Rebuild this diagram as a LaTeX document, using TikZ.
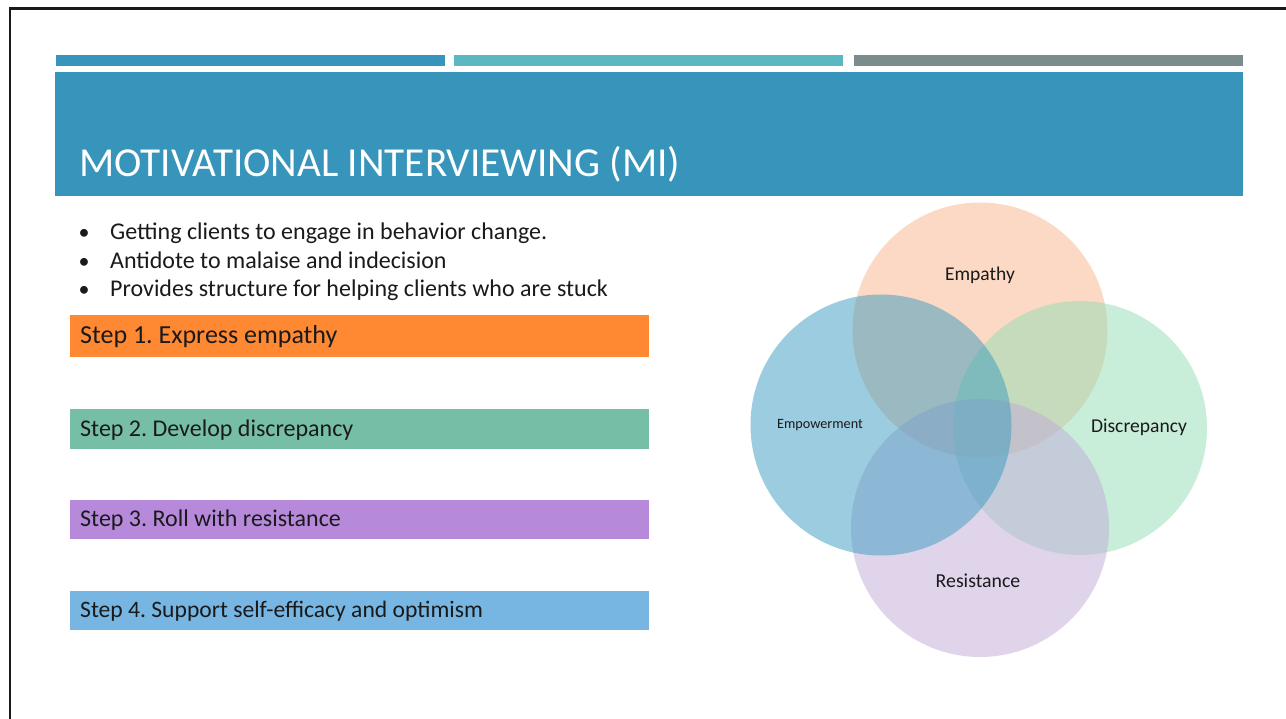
\documentclass[tikz,border=0pt]{standalone}
\usepackage{fontspec}
\setmainfont{Carlito}
\frenchspacing
\begin{document}
\definecolor{hdrblue}{HTML}{3795BC}
\definecolor{bartwo}{HTML}{5BB8C0}
\definecolor{barthree}{HTML}{7A8C8C}
\definecolor{stepone}{HTML}{FF8833}
\definecolor{steptwo}{HTML}{76BFA6}
\definecolor{stepthree}{HTML}{B689DB}
\definecolor{stepfour}{HTML}{77B5E2}
\definecolor{cempathy}{HTML}{F8B48A}
\definecolor{cdisc}{HTML}{93DDB4}
\definecolor{cresist}{HTML}{C2ABD9}
\definecolor{cempow}{HTML}{3A9BC0}
\definecolor{txt}{HTML}{1A1A1A}
\begin{tikzpicture}[x=1pt,y=-1pt,
  bar/.style={fill=#1,draw=none,inner sep=0pt,outer sep=0pt},
  stepbox/.style={fill=#1,draw=none,inner sep=0pt,outer sep=0pt,minimum width=579pt,anchor=north west},
  steptext/.style={anchor=west,inner sep=0pt,font=\fontsize{24}{28}\selectfont,text=txt},
  bullettext/.style={anchor=base west,inner sep=0pt,font=\fontsize{24}{28}\selectfont,text=txt},
  dot/.style={anchor=base,inner sep=0pt,font=\fontsize{22}{26}\selectfont,text=txt},
  venn/.style={circle,fill=#1,draw=none,fill opacity=0.5,inner sep=0pt},
  vlabel/.style={inner sep=0pt,text=txt,text opacity=1}
]
\useasboundingbox (0,0) rectangle (1286,719);
\fill[white] (0,0) rectangle (1286,719);
% frame
\coordinate (ftl) at (10,8.3);
\coordinate (ftr) at (1286,8.3);
\coordinate (fbl) at (10,719);
\draw[line width=2.6pt,black!90] (ftr) -- (ftl) -- (fbl);
% top bars
\node[bar=hdrblue,minimum width=389pt,minimum height=11pt,anchor=north west] (bar1) at (56,55) {};
\node[bar=bartwo,minimum width=389pt,minimum height=11pt,anchor=north west] (bar2) at (454,55) {};
\node[bar=barthree,minimum width=389pt,minimum height=11pt,anchor=north west] (bar3) at (854,55) {};
% header
\node[bar=hdrblue,minimum width=1188pt,minimum height=124pt,anchor=north west] (header) at (55,72) {};
\node[anchor=base west,inner sep=0pt,text=white,font=\fontsize{41.2}{45}\selectfont] (title) at (79,177) {MOTIVATIONAL INTERVIEWING (MI)};
% bullets
\node[dot] (d1) at (84,240) {•};
\node[bullettext] (b1) at (110,240) {Getting clients to engage in behavior change.};
\node[dot] (d2) at (84,268.5) {•};
\node[bullettext] (b2) at (110,268.5) {Antidote to malaise and indecision};
\node[dot] (d3) at (84,297) {•};
\node[bullettext] (b3) at (110,297) {Provides structure for helping clients who are stuck};
% steps
\node[stepbox=stepone,minimum height=42pt] (s1) at (70,315) {};
\node[steptext,font=\fontsize{26}{30}\selectfont] (s1t) at ([xshift=10pt,yshift=-1pt]s1.west) {Step 1. Express empathy};
\node[stepbox=steptwo,minimum height=40pt] (s2) at (70,409) {};
\node[steptext] (s2t) at ([xshift=10pt,yshift=-1pt]s2.west) {Step 2. Develop discrepancy};
\node[stepbox=stepthree,minimum height=39pt] (s3) at (70,500) {};
\node[steptext] (s3t) at ([xshift=10pt,yshift=-1pt]s3.west) {Step 3. Roll with resistance};
\node[stepbox=stepfour,minimum height=39pt] (s4) at (70,591) {};
\node[steptext,font=\fontsize{23.6}{28}\selectfont] (s4t) at ([xshift=10pt,yshift=-1pt]s4.west) {Step 4. Support self-efficacy and optimism};
% venn
\node[venn=cempathy,minimum size=255pt] (cemp) at (980,330) {};
\node[venn=cdisc,minimum size=254pt] (cdis) at (1080,428) {};
\node[venn=cresist,minimum size=258pt] (cres) at (980,528) {};
\node[venn=cempow,minimum size=261pt] (cpow) at (881,425) {};
\node[vlabel,font=\fontsize{19.5}{23}\selectfont] (lemp) at (980,275) {Empathy};
\node[vlabel,font=\fontsize{14.2}{17}\selectfont] (lpow) at (820,425) {Empowerment};
\node[vlabel,font=\fontsize{19.6}{23}\selectfont] (ldis) at (1139,427) {Discrepancy};
\node[vlabel,font=\fontsize{19.8}{23}\selectfont] (lres) at (978,581) {Resistance};
\end{tikzpicture}
\end{document}
